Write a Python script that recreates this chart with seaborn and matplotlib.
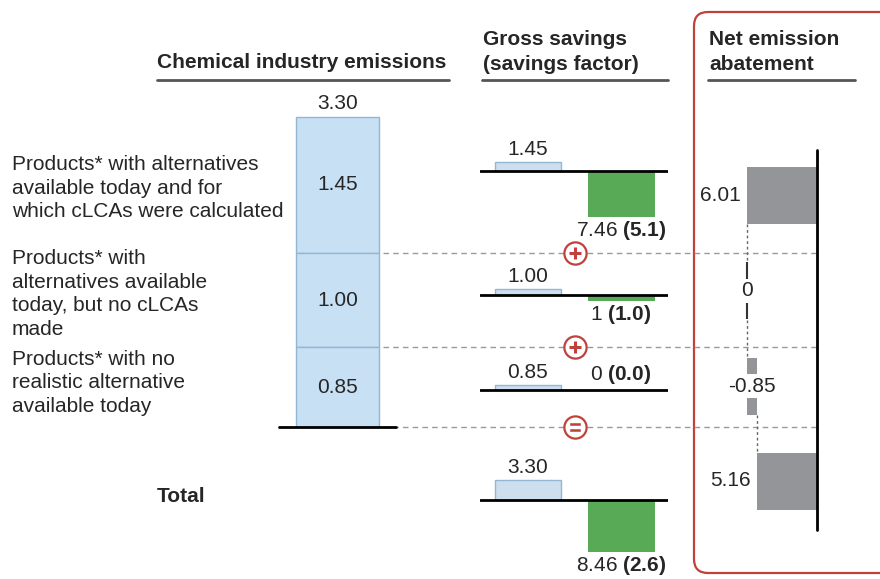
import matplotlib.pyplot as plt
import matplotlib.transforms as mtransforms
from matplotlib.patches import FancyBboxPatch
import seaborn as sns

# values
row_labels = ["Products* with alternatives\navailable today and for\nwhich cLCAs were calculated",
              "Products* with\nalternatives available\ntoday, but no cLCAs\nmade",
              "Products* with no\nrealistic alternative\navailable today"]
total_label = "Total"
emissions = [1.45, 1.00, 0.85]          # chemical industry emissions, top to bottom
emissions_total = 3.30
savings = [7.46, 1.0, 0.0]              # gross savings
savings_factor = [5.1, 1.0, 0.0]
savings_total = 8.46
factor_total = 2.6
net_steps = [6.01, 0.0, -0.85]          # net emission abatement (waterfall)
net_total = 5.16

BLUE = "#c7e0f4"
BLUE_EDGE = "#93b6d2"
GREEN = "#4cb848"
GRAY = "#939598"
RED = "#c0413b"
DASH = "#9a9a9a"

sns.set_theme(style="white")
plt.rcParams["font.family"] = ["Liberation Sans", "DejaVu Sans"]
plt.rcParams["mathtext.fontset"] = "custom"
plt.rcParams["mathtext.rm"] = "Liberation Sans"
plt.rcParams["mathtext.bf"] = "Liberation Sans:bold"

W, H = 880, 579
fig = plt.figure(figsize=(W / 100, H / 100), dpi=100)


def px_axes(x0, y0, x1, y1):
    ax = fig.add_axes([x0 / W, 1 - y1 / H, (x1 - x0) / W, (y1 - y0) / H])
    ax.set_facecolor("none")
    return ax


# background layer in pixel units for headers, texts and the red frame
bg = px_axes(0, 0, W, H)
bg.set_xlim(0, W)
bg.set_ylim(H, 0)
bg.axis("off")

fs = 15
bg.text(157, 63, "Chemical industry emissions", fontsize=fs, fontweight="bold", va="center")
bg.plot([157, 449], [80, 80], color="#555555", lw=2)
bg.text(483, 52, "Gross savings\n(savings factor)", fontsize=fs, fontweight="bold", va="center",
        linespacing=1.38)
bg.plot([482, 668], [80, 80], color="#555555", lw=2)
bg.text(709, 52, "Net emission\nabatement", fontsize=fs, fontweight="bold", va="center",
        linespacing=1.38)
bg.plot([708, 855], [80, 80], color="#555555", lw=2)

for lab, yc in zip(row_labels, [188, 294, 383]):
    bg.text(12, yc, lab, fontsize=fs, va="center", linespacing=1.33)
bg.text(157, 496, total_label, fontsize=fs, fontweight="bold", va="center")

bg.add_patch(FancyBboxPatch((694, 12), 260, 561, boxstyle="round,pad=0,rounding_size=14",
                            fill=False, edgecolor=RED, lw=1.6, clip_on=False))

# --- stacked emissions bar ---
k_stack = 94.0
ax_s = px_axes(279, 60, 396, 427)
ax_s.set_xlim(-0.5, 0.5)
ax_s.set_ylim(0, (427 - 60) / k_stack)
ax_s.axis("off")
bottoms = [sum(emissions[i + 1:]) for i in range(len(emissions))]
ax_s.bar([0] * len(emissions), emissions, bottom=bottoms, width=0.71, color=BLUE,
         edgecolor=BLUE_EDGE, lw=1)
ax_s.axhline(0, color="black", lw=2, clip_on=False)
for v, b in zip(emissions, bottoms):
    ax_s.text(0, b + v / 2, f"{v:.2f}", ha="center", va="center", fontsize=fs)
ax_s.annotate(f"{emissions_total:.2f}", xy=(0, emissions_total), xytext=(0, 3),
              textcoords="offset points", ha="center", va="bottom", fontsize=fs)

# dashed separators and +/= signs, aligned to the stack boundaries
trans = mtransforms.blended_transform_factory(bg.transData, ax_s.transData)
for i, b in enumerate(bottoms):
    ax_s.plot([383, 820], [b, b], transform=trans, color=DASH, lw=1, ls=(0, (4, 3)),
              clip_on=False, zorder=1)
    ax_s.plot([575], [b], transform=trans, marker="o", ms=16, mfc="white", mec=RED, mew=1.6,
              clip_on=False, zorder=5)
    if i == len(bottoms) - 1:
        ax_s.plot([575], [b], transform=trans, marker=r"$\mathbf{=}$", ms=7, color=RED,
                  mew=0.4, clip_on=False, zorder=6)
    else:
        ax_s.plot([575], [b], transform=trans, marker="+", ms=8, mew=2.2, color=RED,
                  clip_on=False, zorder=6)

# --- gross savings rows ---
k_gross = 6.1
cats = ["emissions", "savings"]
rows = list(zip(emissions, savings, savings_factor)) + [(emissions_total, savings_total, factor_total)]
for base, (e, s, f) in zip([171, 295, 390, 500], rows):
    ax = px_axes(480, base - 40, 668, base + 70)
    sns.barplot(x=cats, y=[e, -s], hue=cats, palette=[BLUE, GREEN], width=0.72,
                legend=False, linewidth=0, ax=ax)
    ax.patches[0].set_edgecolor(BLUE_EDGE)
    ax.patches[0].set_linewidth(1)
    ax.set_xlim(-0.516, 1.505)
    ax.set_ylim(-70 / k_gross, 40 / k_gross)
    ax.axis("off")
    ax.axhline(0, color="black", lw=2)
    ax.annotate(f"{e:.2f}", xy=(0, e), xytext=(0, 2), textcoords="offset points",
                ha="center", va="bottom", fontsize=fs)
    txt = f"{s:g} " + r"$\mathbf{(" + f"{f:.1f}" + r")}$"
    if s > 0:
        ax.annotate(txt, xy=(1, -s), xytext=(0, -1.5), textcoords="offset points",
                    ha="center", va="top", fontsize=fs)
    else:
        ax.annotate(txt, xy=(1, 0), xytext=(0, 3), textcoords="offset points",
                    ha="center", va="bottom", fontsize=fs)

# --- net emission abatement waterfall ---
k_net = 11.7
ax_n = px_axes(690, 150, 817, 530)
ax_n.set_xlim((817 - 690) / k_net, 0)
ax_n.set_ylim((530 - 196) / 95, (150 - 196) / 95)
ax_n.axis("off")
cum = 0.0
ends = []
for i, v in enumerate(net_steps):
    new = cum + v
    if v == 0:
        ax_n.barh(i, 0, left=cum, height=0.6, color=GRAY, edgecolor="#333333", lw=1.5)
    else:
        ax_n.barh(i, abs(v), left=min(cum, new), height=0.6, color=GRAY, lw=0)
    if i == 0:
        ax_n.text(new + 0.5, i, f"{v:g}", ha="right", va="center", fontsize=fs)
    else:
        ax_n.text((cum + new) / 2, i, f"{v:g}", ha="center", va="center", fontsize=fs,
                  bbox=dict(facecolor="white", edgecolor="none", pad=1.5))
    cum = new
    ends.append(cum)
ti = len(net_steps)
ax_n.barh(ti, net_total, left=0, height=0.6, color=GRAY, lw=0)
ax_n.text(net_total + 0.5, ti, f"{net_total:g}", ha="right", va="center", fontsize=fs)
for i, c in enumerate(ends):
    ax_n.plot([c, c], [i + 0.3, i + 0.7], color="#666666", lw=1, ls=(0, (2, 2)), zorder=0)
ax_n.axvline(0, color="black", lw=2, clip_on=False)

fig.savefig("out.png", dpi=100)
